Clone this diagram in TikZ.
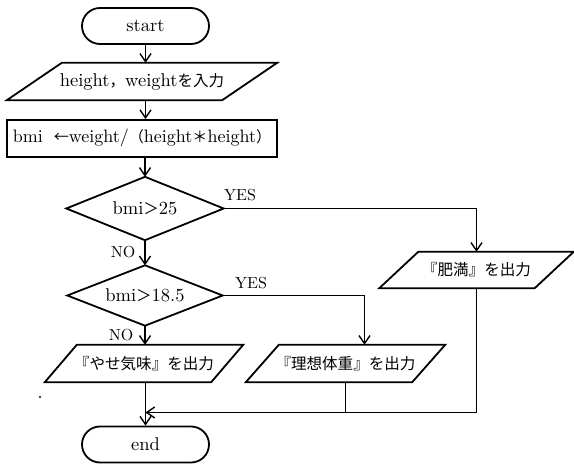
\documentclass[tikz,border=0pt]{standalone}
\usepackage{fontspec}
\setmainfont{lmroman10-regular.otf}
\usetikzlibrary{shapes.geometric,shapes.misc,arrows.meta}
\newfontfamily\jpfont[Scale=0.84]{Noto Sans CJK JP}
\newcommand{\jp}[1]{{\jpfont #1}}
\newcommand{\pgramdraw}[2]{%
  \draw[pgram] ([xshift=#2]#1.north west) -- (#1.north east) -- ([xshift=-#2]#1.south east) -- (#1.south west) -- cycle;}
\newcommand{\diadraw}[1]{%
  \draw[pgram] (#1.north) -- (#1.east) -- (#1.south) -- (#1.west) -- cycle;}
\begin{document}
\begin{tikzpicture}[x=1pt,y=-1pt,
  every node/.style={font=\fontsize{18.5}{21}\selectfont, inner sep=0pt},
  term/.style={rounded rectangle, draw, line width=1.8pt, minimum width=127pt, minimum height=36pt},
  iobox/.style={rectangle, minimum height=37pt},
  proc/.style={rectangle, draw, line width=1.8pt, minimum width=270pt, minimum height=37pt},
  dec/.style={rectangle},
  lbl/.style={font=\fontsize{16}{18}\selectfont},
  conn/.style={line width=1.4pt, -{Straight Barb[length=8pt,width=11pt]}},
  plain/.style={line width=1.4pt},
  pgram/.style={line width=1.8pt, line join=miter}
]
\useasboundingbox (0,0) rectangle (574,465);

\node[term] (start) at (145.5,26) {start};
\node[iobox, minimum width=270pt] (in) at (142,81.5) {height\jp{，}weight\jp{を入力}};
\pgramdraw{in}{55pt}
\node[proc, font=\fontsize{18}{21}\selectfont] (proc) at (142,138.5) {bmi\hspace{11pt}\jp{←}weight/\jp{（}height\jp{＊}height\jp{）}};
\node[dec, minimum width=157pt, minimum height=63pt] (d1) at (145,208.5) {bmi\jp{＞}25};
\diadraw{d1}
\node[dec, minimum width=155pt, minimum height=60pt] (d2) at (145,295.5) {bmi\jp{＞}18.5};
\diadraw{d2}
\node[iobox, minimum width=194pt, minimum height=36pt] (fat) at (476.5,270) {\jp{『肥満』を出力}};
\pgramdraw{fat}{39pt}
\node[iobox, minimum width=198pt] (thin) at (144,363.5) {\jp{『やせ気味』を出力}};
\pgramdraw{thin}{32pt}
\node[iobox, minimum width=199pt] (ideal) at (345.5,363.5) {\jp{『理想体重』を出力}};
\pgramdraw{ideal}{33pt}
\node[term] (end) at (145.5,444.5) {end};

\node[lbl] (yes1) at (240,195) {YES};
\node[lbl] (yes2) at (251,283) {YES};
\node[lbl] (no1) at (123,252) {NO};
\node[lbl] (no2) at (121,335) {NO};

\coordinate (merge) at (0,412.5);

\draw[conn] (start.south) -- (start.south |- in.north);
\draw[conn] (in.south -| start.south) -- (proc.north -| start.south);
\draw[conn] (proc.south -| d1.north) -- (d1.north);
\draw[conn] (d1.south) -- (d2.north);
\draw[conn] (d2.south) -- (d2.south |- thin.north);
\draw[conn] (thin.south -| end.north) -- (end.north);
\draw[conn] (d1.east) -| (fat.north);
\draw[conn] (d2.east) -| ([xshift=19pt]ideal.north);
\draw[conn] (fat.south) |- (merge -| end.north);
\draw[plain] (ideal.south) -- (ideal.south |- merge);

\fill (40,397) circle (1.1pt);
\end{tikzpicture}
\end{document}
